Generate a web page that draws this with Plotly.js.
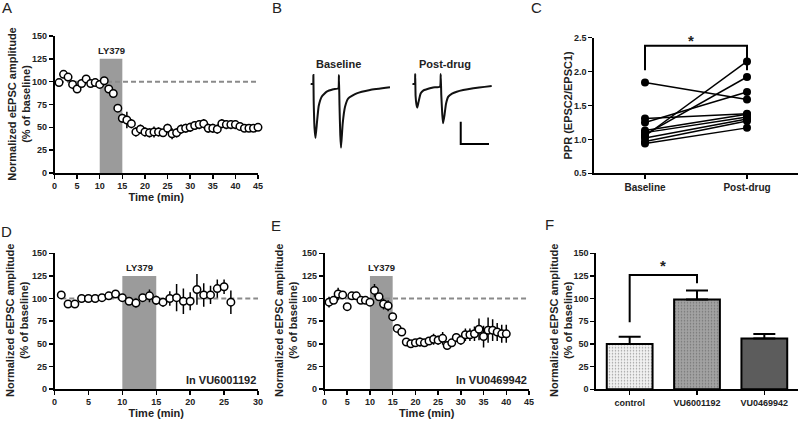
<!DOCTYPE html>
<html>
<head>
<meta charset="utf-8">
<script src="https://cdn.plot.ly/plotly-3.0.1.min.js"></script>
<style>html,body{margin:0;padding:0;background:#fff;}#chart{width:800px;height:421px;}</style>
</head>
<body>
<div id="chart"></div>
<script>
// ---------- DATA ----------
// Panel A: LY379 time course (control)
const timeA = [1,2,3,4,5,6,7,8,9,10,11,12,13,14,15,16,17,18,19,20,21,22,23,24,25,26,27,28,29,30,31,32,33,34,35,36,37,38,39,40,41,42,43,44,45];
const ampA  = [99,108,105,97,92,98,103,98,99,97,101,92,87,71,60,58,54,45,48,45,44,45,45,44,49,43,44,48,49,50,52,53,54,49,49,48,54,53,53,53,51,49,49,49,50];
const semA  = [3,3,3,3,3,3,3,3,3,3,3,3,3,3,5,9,5,5,5,5,5,6,5,4,5,6,5,5,5,5,5,5,5,5,5,5,5,5,5,5,4,4,4,4,4];

// Panel B: example paired-pulse traces (time in ms, current in pA)
const baseTraceT = [1.2,5.3,6.0,6.5,8.0,9.7,12.4,15.4,20.7,29.6,41.2,50.1,51.2,52.2,53.6,54.9,57.9,62.0,67.8,82.7,106.2,141.6];
const baseTraceI = [0,0,81,-144,-396,-486,-342,-198,-114,-69,-48,-39,81,-189,-459,-573,-354,-204,-129,-84,-54,-30];
const postTraceT = [1.2,5.3,6.0,6.7,8.1,9.7,11.9,15.8,20.7,26.4,37.5,49.9,51.2,52.2,54.0,55.4,57.9,60.5,64.6,71.2,79.5,108.9,141.4];
const postTraceI = [0,0,90,-108,-180,-212,-162,-84,-57,-48,-32,-23,90,-99,-279,-354,-279,-180,-114,-86,-69,-39,-18];
const scaleBarMs = 50;
const scaleBarPa = 200;

// Panel C: paired-pulse ratio
const pprCategories = ['Baseline','Post-drug'];
const pprBaseline = [1.84,1.31,1.25,1.13,1.10,1.07,1.05,1.02,0.97,0.94];
const pprPost     = [1.59,1.38,1.70,1.37,1.33,1.92,2.15,1.30,1.27,1.17];

// Panel D: in VU6001192
const timeD = [1,2,3,4,5,6,7,8,9,10,11,12,13,14,15,16,17,18,19,20,21,22,23,24,25,26];
const ampD  = [104,94,94,100,100,100,101,103,105,101,97,95,101,103,98,96,100,101,97,97,110,104,104,111,113,96];
const semD  = [3,3,3,3,3,3,3,3,3,3,4,5,4,7,5,5,8,15,14,10,17,13,10,10,8,13];

// Panel E: in VU0469942
const timeE = [1,2,3,4,5,6,7,8,9,10,11,12,13,14,15,16,17,18,19,20,21,22,23,24,25,26,27,28,29,30,31,32,33,34,35,36,37,38,39,40];
const ampE  = [96,98,105,104,91,103,103,98,98,96,109,102,94,92,80,67,63,52,50,51,52,51,53,55,54,56,48,51,57,54,60,60,61,66,58,65,65,63,61,61];
const semE  = [6,3,7,3,3,3,3,3,3,4,7,3,6,6,3,3,3,3,3,4,5,3,4,6,5,7,3,4,5,5,7,7,8,12,12,14,12,10,10,10];

// Panel F: summary
const groupsF = ['control','VU6001192','VU0469942'];
const meanF   = [50,99,56];
const semF    = [8,10,5];

// Annotations common to time-course panels
const drugWindow = [10,15];
const drugLabel = 'LY379';
const baselineLevel = 100;

// ---------- HELPERS ----------
const W = 800, H = 421;
const fx = px => px / W;
const fy = py => 1 - py / H;
const FONT = 'Liberation Sans, Arial, sans-serif';
const tickFont = {family: FONT, size: 9, color: '#222', weight: 'bold'};
const titleFont = {family: FONT, size: 11, color: '#222', weight: 'bold'};

function axisBase(extra) {
  return Object.assign({
    showline: true, linecolor: '#000', linewidth: 1.6,
    ticks: 'outside', ticklen: 4, tickwidth: 1.5, tickcolor: '#000',
    showgrid: false, zeroline: false, tickfont: tickFont, fixedrange: true
  }, extra);
}

function timeCourse(t, y, s, xa, ya) {
  return {
    type: 'scatter', mode: 'markers', x: t, y: y, xaxis: xa, yaxis: ya,
    error_y: {type: 'data', array: s, visible: true, color: '#000', thickness: 1.5, width: 0},
    marker: {symbol: 'circle', size: 7.5, color: '#fff', line: {color: '#000', width: 1.5}},
    cliponaxis: false, showlegend: false, hoverinfo: 'x+y'
  };
}

const traces = [];
traces.push(timeCourse(timeA, ampA, semA, 'x', 'y'));
traces.push(timeCourse(timeD, ampD, semD, 'x3', 'y3'));
traces.push(timeCourse(timeE, ampE, semE, 'x4', 'y4'));

// Panel C lines
pprBaseline.forEach((b, i) => {
  traces.push({
    type: 'scatter', mode: 'lines+markers', x: pprCategories, y: [b, pprPost[i]],
    xaxis: 'x2', yaxis: 'y2',
    line: {color: '#000', width: 1.5},
    marker: {size: 8, color: '#000'},
    cliponaxis: false, showlegend: false
  });
});

// Panel F bars
traces.push({
  type: 'bar', x: groupsF, y: meanF, xaxis: 'x5', yaxis: 'y5', width: 0.68,
  marker: {
    color: ['#f1f1f1', '#a2a2a2', '#5c5c5c'],
    line: {color: '#000', width: 2},
    pattern: {shape: ['.', '.', ''], fillmode: 'overlay', fgcolor: ['#cfcfcf', '#8c8c8c', '#5c5c5c'], size: 3, solidity: 0.2}
  },
  error_y: {type: 'data', symmetric: false, array: semF, arrayminus: [0,0,0], color: '#000', thickness: 2, width: 11},
  showlegend: false
});

// Panel B traces
traces.push({type: 'scatter', mode: 'lines', x: baseTraceT, y: baseTraceI, xaxis: 'x6', yaxis: 'y6',
  line: {color: '#111', width: 2, shape: 'spline', smoothing: 0.4}, showlegend: false, hoverinfo: 'skip'});
traces.push({type: 'scatter', mode: 'lines', x: postTraceT, y: postTraceI, xaxis: 'x7', yaxis: 'y6',
  line: {color: '#111', width: 2, shape: 'spline', smoothing: 0.4}, showlegend: false, hoverinfo: 'skip'});

// ---------- LAYOUT ----------
const yTitleText = 'Normalized eEPSC amplitude<br>(% of baseline)';
const layout = {
  width: W, height: H,
  margin: {l: 0, r: 0, t: 0, b: 0},
  paper_bgcolor: '#fff', plot_bgcolor: 'rgba(0,0,0,0)',
  showlegend: false,
  font: {family: FONT, color: '#222'},
  // A
  xaxis: axisBase({domain: [fx(54.5), fx(258)], range: [0, 45], tickmode: 'linear', tick0: 0, dtick: 5, anchor: 'y',
    title: {text: 'Time (min)', font: titleFont, standoff: 3}}),
  yaxis: axisBase({domain: [fy(173), fy(36)], range: [0, 150], tickmode: 'linear', tick0: 0, dtick: 25, anchor: 'x'}),
  // C
  xaxis2: axisBase({domain: [fx(594), fx(798)], type: 'category', categoryarray: pprCategories, range: [-0.5, 1.5], anchor: 'y2',
    tickfont: Object.assign({}, tickFont, {size: 10})}),
  yaxis2: axisBase({domain: [fy(173.3), fy(37.7)], range: [0.5, 2.5], tickmode: 'linear', tick0: 0.5, dtick: 0.5, tickformat: '.1f', anchor: 'x2'}),
  // D
  xaxis3: axisBase({domain: [fx(54.5), fx(258)], range: [0, 30], tickmode: 'linear', tick0: 0, dtick: 5, anchor: 'y3',
    title: {text: 'Time (min)', font: titleFont, standoff: 3}}),
  yaxis3: axisBase({domain: [fy(389), fy(253.3)], range: [0, 150], tickmode: 'linear', tick0: 0, dtick: 25, anchor: 'x3'}),
  // E
  xaxis4: axisBase({domain: [fx(324.5), fx(529)], range: [0, 45], tickmode: 'linear', tick0: 0, dtick: 5, anchor: 'y4',
    title: {text: 'Time (min)', font: titleFont, standoff: 3}}),
  yaxis4: axisBase({domain: [fy(389), fy(253.3)], range: [0, 150], tickmode: 'linear', tick0: 0, dtick: 25, anchor: 'x4'}),
  // F
  xaxis5: axisBase({domain: [fx(596), fx(798)], type: 'category', categoryarray: groupsF, range: [-0.5, 2.5], anchor: 'y5'}),
  yaxis5: axisBase({domain: [fy(389.3), fy(253.3)], range: [0, 150], tickmode: 'linear', tick0: 0, dtick: 25, anchor: 'x5'}),
  // B (hidden axes)
  xaxis6: {domain: [fx(305), fx(395)], range: [-8.85, 150.45], visible: false, anchor: 'y6', fixedrange: true},
  xaxis7: {domain: [fx(406.8), fx(496.8)], range: [-8.85, 150.45], visible: false, anchor: 'y6', fixedrange: true},
  yaxis6: {domain: [fy(160), fy(60)], range: [-684, 216], visible: false, anchor: 'x6', fixedrange: true},
  shapes: [],
  annotations: []
};

// drug window + baseline dashes for time-course panels
[['x', 'y', timeA], ['x3', 'y3', timeD], ['x4', 'y4', timeE]].forEach(([xa, ya, t]) => {
  const xmax = layout[xa === 'x' ? 'xaxis' : 'xaxis' + xa.slice(1)].range[1];
  layout.shapes.push({type: 'rect', xref: xa, yref: ya, x0: drugWindow[0], x1: drugWindow[1], y0: 0, y1: 125,
    fillcolor: '#9b9b9b', line: {width: 0}, layer: 'below'});
  layout.shapes.push({type: 'line', xref: xa, yref: ya, x0: t[0], x1: xmax, y0: baselineLevel, y1: baselineLevel,
    line: {color: '#8a8a8a', width: 2, dash: '5px,3px'}, layer: 'below'});
  layout.annotations.push({xref: xa, yref: ya, x: (drugWindow[0] + drugWindow[1]) / 2, y: 134, text: drugLabel,
    showarrow: false, font: {family: FONT, size: 9.5, color: '#222', weight: 'bold'}});
});

// y-axis titles (rotated, two lines)
[[yTitleText, 18.7, 104], [yTitleText, 17, 321], [yTitleText, 286, 321], [yTitleText, 561, 321],
 ['PPR (EPSC2/EPSC1)', 567, 105.5]].forEach(([txt, x, y]) => {
  layout.annotations.push({xref: 'paper', yref: 'paper', x: fx(x), y: fy(y), text: txt, textangle: -90,
    showarrow: false, xanchor: 'center', yanchor: 'middle', font: titleFont});
});

// "In ..." labels
layout.annotations.push({xref: 'x3 domain', yref: 'y3', x: 1, y: 10, xanchor: 'right', text: 'In VU6001192',
  showarrow: false, font: {family: FONT, size: 11, color: '#222', weight: 'bold'}});
layout.annotations.push({xref: 'x4 domain', yref: 'y4', x: 1, y: 10, xanchor: 'right', text: 'In VU0469942',
  showarrow: false, font: {family: FONT, size: 11, color: '#222', weight: 'bold'}});

// C significance bracket
layout.shapes.push({type: 'path', xref: 'x2', yref: 'y2', path: 'M 0,2.02 L 0,2.38 L 1,2.38 L 1,2.02',
  line: {color: '#000', width: 2}});
layout.annotations.push({xref: 'paper', yref: 'paper', x: fx(696), y: fy(30), text: '*', showarrow: false,
  font: {family: FONT, size: 15, color: '#222', weight: 'bold'}});

// F significance bracket
layout.shapes.push({type: 'path', xref: 'x5', yref: 'y5', path: 'M 0,74 L 0,126 L 1,126 L 1,117',
  line: {color: '#000', width: 2}});
layout.annotations.push({xref: 'x5', yref: 'y5', x: 0.5, y: 136, text: '*', showarrow: false,
  font: {family: FONT, size: 15, color: '#222', weight: 'bold'}});

// B scale bar (50 ms x 200 pA) and labels
const sbT0 = 86.6, sbI0 = -540;
layout.shapes.push({type: 'path', xref: 'x7', yref: 'y6',
  path: `M ${sbT0},${sbI0 + scaleBarPa} L ${sbT0},${sbI0} L ${sbT0 + scaleBarMs},${sbI0}`,
  line: {color: '#000', width: 2}});
layout.annotations.push({xref: 'paper', yref: 'paper', x: fx(338.3), y: fy(56), text: 'Baseline', showarrow: false,
  font: {family: FONT, size: 11, color: '#222', weight: 'bold'}});
layout.annotations.push({xref: 'paper', yref: 'paper', x: fx(445), y: fy(56), text: 'Post-drug', showarrow: false,
  font: {family: FONT, size: 11, color: '#222', weight: 'bold'}});

// Panel letters
[['A', 6.7, 8], ['B', 277, 8], ['C', 536.7, 8], ['D', 6.7, 232], ['E', 276, 225], ['F', 549, 224]].forEach(([l, x, y]) => {
  layout.annotations.push({xref: 'paper', yref: 'paper', x: fx(x), y: fy(y), text: l, showarrow: false,
    xanchor: 'center', yanchor: 'middle', font: {family: FONT, size: 15, color: '#222'}});
});

Plotly.newPlot('chart', traces, layout, {staticPlot: true, displayModeBar: false});
</script>
</body>
</html>
